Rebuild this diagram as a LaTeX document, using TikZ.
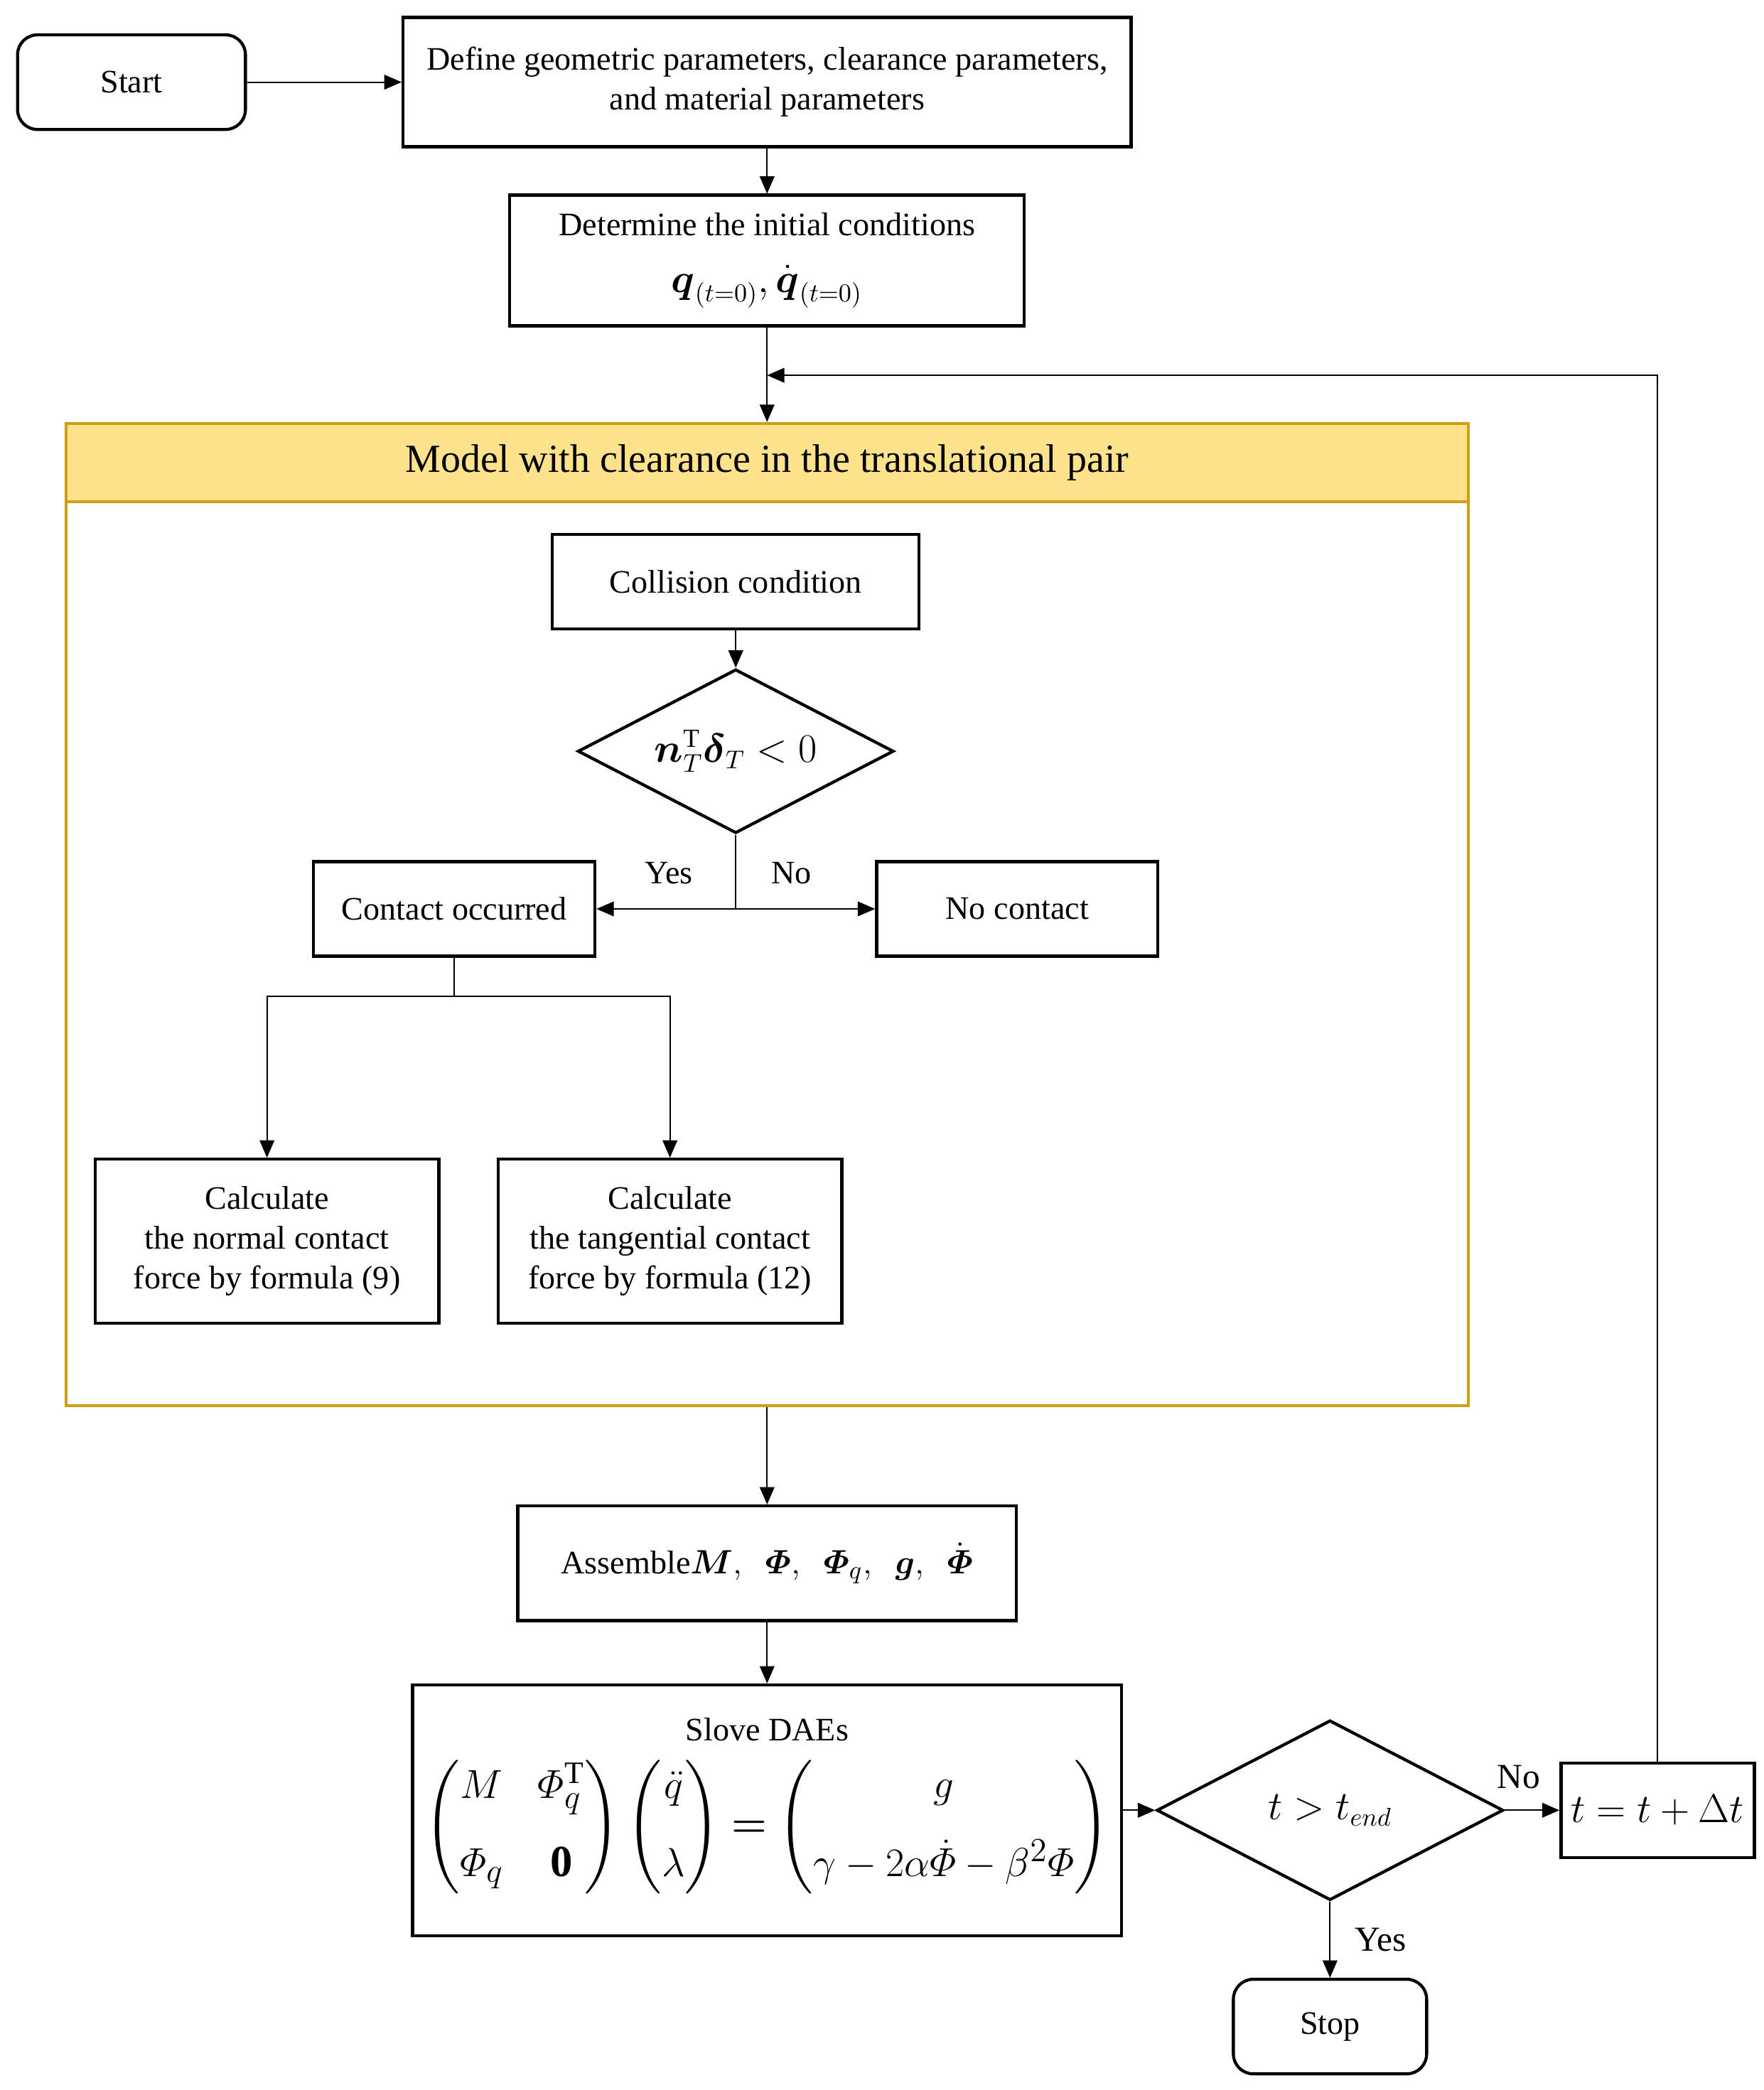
\documentclass[tikz,border=0pt]{standalone}
\usepackage{amsmath,amssymb}
\usepackage{fontspec}
\setmainfont{Liberation Serif}
\usetikzlibrary{arrows.meta,positioning,shapes.geometric}
\definecolor{headfill}{RGB}{255,226,140}
\definecolor{headline}{RGB}{208,158,20}

\begin{document}
\begin{tikzpicture}[
box/.style={draw,line width=1.3pt,align=center,inner sep=1mm,font=\fontsize{14}{17}\selectfont},
term/.style={box,rounded corners=3mm,minimum height=14.2mm},
decide/.style={box,diamond,aspect=1.93,inner sep=0pt},
frame/.style={draw=headline,line width=1.2pt,inner sep=0pt},
arrow/.style={-{Triangle[length=2.6mm,width=2.2mm]},line width=0.6pt},
line/.style={line width=0.6pt},
lbl/.style={font=\fontsize{14}{16}\selectfont}
]
\node[term,minimum width=34.2mm] (start) {Start};
\node[box,minimum width=109.2mm,minimum height=19.4mm,right=23.2mm of start] (define) {Define geometric parameters, clearance parameters,\\and material parameters};
\node[box,minimum width=77.2mm,minimum height=19.6mm,below=6.8mm of define] (initial) {Determine the initial conditions\\[2.5mm]{\fontsize{16}{18}\selectfont$\boldsymbol{q}_{(t=0)},\dot{\boldsymbol{q}}_{(t=0)}$}};
\node[frame,minimum width=210.4mm,minimum height=147.4mm,below=14.2mm of initial] (model) {};
\node[frame,fill=headfill,minimum width=210.4mm,minimum height=11.8mm,below=0mm of model.north,font=\fontsize{17}{20}\selectfont] (modelhead) {Model with clearance in the translational pair};
\node[box,minimum width=55mm,minimum height=14.2mm,below=4.4mm of modelhead,xshift=-4.7mm] (collision) {Collision condition};
\node[decide,minimum width=47.4mm,minimum height=24.6mm,below=5.6mm of collision,font=\fontsize{16}{18}\selectfont] (gap) {$\boldsymbol{n}_T^{\mathrm{T}}\boldsymbol{\delta}_T<0$};
\node[box,minimum width=42.2mm,minimum height=14.2mm,below left=3.8mm and 20.9mm of gap.south] (contact) {Contact occurred};
\node[box,minimum width=42.2mm,minimum height=14.2mm,below right=3.8mm and 20.9mm of gap.south] (nocontact) {No contact};
\node[box,minimum width=51.6mm,minimum height=24.6mm,below=30mm of contact,xshift=-28.1mm] (normal) {Calculate\\the normal contact\\force by formula (9)};
\node[box,minimum width=51.6mm,minimum height=24.6mm,right=8.4mm of normal] (tangent) {Calculate\\the tangential contact\\force by formula (12)};
\node[box,minimum width=74.8mm,minimum height=17.2mm,below=14.6mm of model] (assemble) {Assemble{\fontsize{15}{18}\selectfont$\boldsymbol{M},\ \ \boldsymbol{\varPhi},\ \ \boldsymbol{\varPhi}_q,\ \ \boldsymbol{g},\ \ \dot{\boldsymbol{\varPhi}}$}};
\node[box,minimum width=106.4mm,minimum height=37.6mm,below=9.2mm of assemble] (dae) {Slove DAEs\\[2.5mm]{\fontsize{19}{22}\selectfont$\begin{pmatrix} M & \;\varPhi_q^{\mathrm{T}}\\[4mm] \varPhi_q & \;\mathbf{0}\end{pmatrix}\begin{pmatrix}\ddot{q}\\[4mm] \lambda\end{pmatrix}\boldsymbol{=}\begin{pmatrix} g\\[4mm] \gamma-2\alpha\dot{\varPhi}-\beta^2\varPhi\end{pmatrix}$}\\[1mm]};
\node[decide,minimum width=52mm,minimum height=27mm,right=4.8mm of dae,font=\fontsize{16}{18}\selectfont] (finish) {$t>t_{end}$};
\node[box,minimum width=29mm,minimum height=14.2mm,right=8.2mm of finish,font=\fontsize{16}{19}\selectfont] (step) {$t=t+\Delta t$};
\node[term,minimum width=29mm,below=11.4mm of finish] (stop) {Stop};
\coordinate[below=5.8mm of contact.south] (split);
\coordinate[above=7mm of model.north] (loopin);
\coordinate[left=2.4mm of start.west] (pagel);
\coordinate[above=2.4mm of define.north] (paget);
\useasboundingbox (pagel |- paget) rectangle ++(264.6mm,-313.6mm);
% main line
\draw[arrow] (start)--(define);
\draw[arrow] (define)--(initial);
\draw[arrow] (initial)--(model);
\draw[arrow] (collision)--(gap);
\draw[arrow] (gap.south) |- node[lbl,pos=0.74,above=2.5mm]{Yes} (contact);
\draw[arrow] (gap.south) |- node[lbl,pos=0.70,above=2.5mm]{No} (nocontact);
\draw[line] (contact)--(split);
\draw[arrow] (split) -| (normal);
\draw[arrow] (split) -| (tangent);
\draw[arrow] (model)--(assemble);
\draw[arrow] (assemble)--(dae);
\draw[arrow] (dae)--(finish);
\draw[arrow] (finish)--node[lbl,pos=0.25,above=2mm,font=\fontsize{15}{17}\selectfont]{No}(step);
\draw[arrow] (finish)--node[lbl,right=2.5mm,font=\fontsize{15}{17}\selectfont]{Yes}(stop);
% loop back
\draw[arrow] (step.north) |- (loopin);
\end{tikzpicture}
\end{document}
